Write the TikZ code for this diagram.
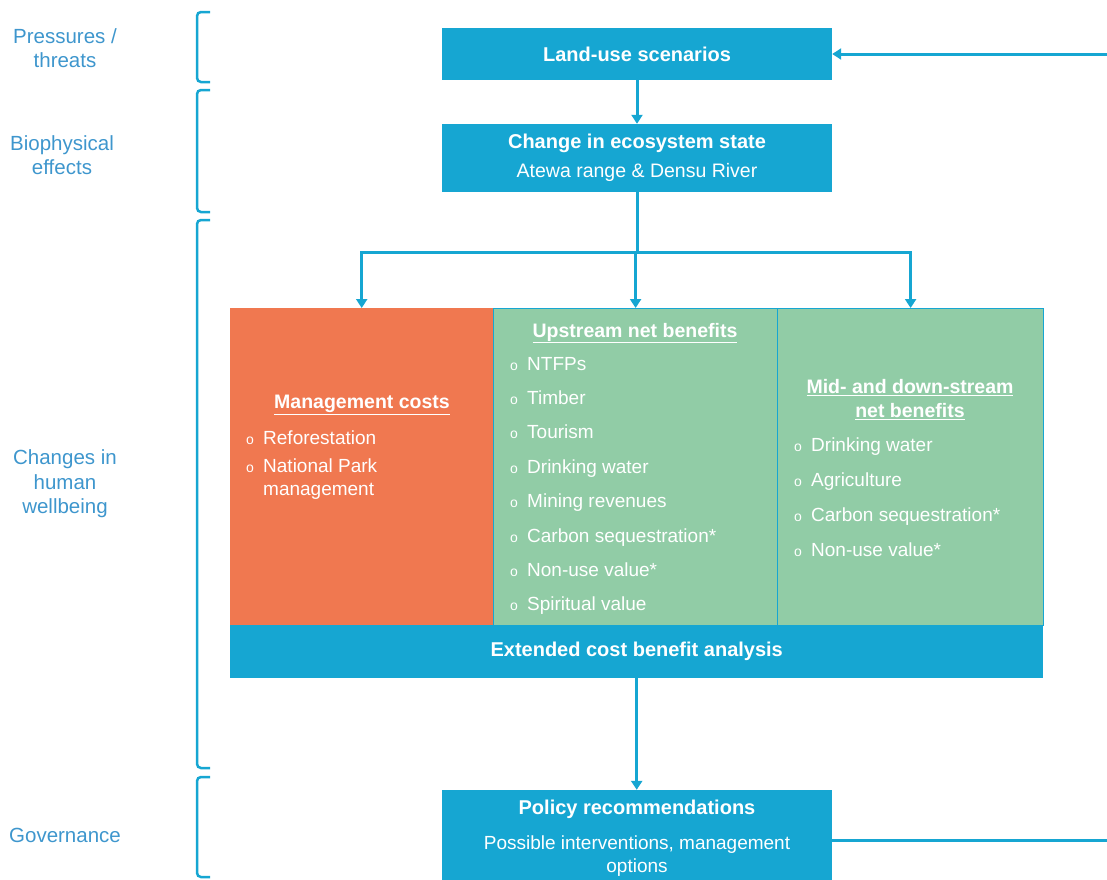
\documentclass[tikz,border=0pt]{standalone}
\usepackage{fontspec}
\setmainfont{Liberation Sans}
\usetikzlibrary{arrows.meta}

\definecolor{boxblue}{RGB}{22,166,210}
\definecolor{sideblue}{RGB}{62,150,205}
\definecolor{costorange}{RGB}{240,120,80}
\definecolor{benefitgreen}{RGB}{145,204,166}

\newcommand{\bul}{\makebox[17pt][l]{\fontsize{14}{14}\selectfont o}}

\tikzset{
	block/.style={fill=boxblue, text=white, minimum width=390pt, align=center, inner sep=0pt},
	panel/.style={anchor=north west, minimum height=317pt, inner sep=0pt},
	sidelabel/.style={text=sideblue, align=center, font=\fontsize{20.5}{24.5}\selectfont},
	title/.style={text=white, align=center, font=\bfseries\fontsize{19.5}{24}\selectfont},
	item/.style={anchor=west, text=white, inner sep=0pt, text height=13.5pt, text depth=4pt,
		font=\fontsize{19}{23}\selectfont},
	flow/.style={draw=boxblue, line width=3pt, -{Triangle[length=9pt,width=11pt]}},
	brace/.style={draw=boxblue, line width=2.5pt, rounded corners=4pt},
}

\begin{document}
\begin{tikzpicture}[x=1pt,y=-1pt]
	\useasboundingbox (0,0) rectangle (1107,879);
	
	\node[sidelabel] (pressures) at (65,48) {Pressures /\\threats};
	\node[sidelabel] (biophys) at (62,155) {Biophysical\\effects};
	\node[sidelabel] (wellbeing) at (65,484) {Changes in\\human\\wellbeing};
	\node[sidelabel] (governance) at (65,835) {Governance};
	
	\draw[brace] (210,12) -- (197,12) -- (197,82) -- (210,82);
	\draw[brace] (210,90) -- (197,90) -- (197,212) -- (210,212);
	\draw[brace] (210,220) -- (197,220) -- (197,768) -- (210,768);
	\draw[brace] (210,777) -- (197,777) -- (197,877) -- (210,877);
	
	\node[block, minimum height=52pt, font=\bfseries\fontsize{20}{24}\selectfont] (land) at (637,54) {Land-use scenarios};
	\node[block, minimum height=68pt] (chg) at (637,158)
	{{\bfseries\fontsize{20}{24}\selectfont Change in ecosystem state}\\[10pt]
		{\fontsize{19.5}{23}\selectfont Atewa range \& Densu River}};
	
	\node[panel, fill=costorange, minimum width=263pt] (mgmt) at (230,308) {};
	\node[panel, fill=benefitgreen, draw=boxblue, line width=1.2pt, minimum width=284pt] (up) at (493,308) {};
	\node[panel, fill=benefitgreen, draw=boxblue, line width=1.2pt, minimum width=266pt] (mid) at (777,308) {};
	\node[anchor=north west, fill=boxblue, minimum width=813pt, minimum height=53pt, inner sep=0pt,
	text=white, font=\bfseries\fontsize{20}{24}\selectfont] (cba) at (230,625) {Extended cost benefit analysis};
	
	\node[title] (mgmttitle) at (362,405) {\underline{Management costs}};
	\node[item] (mg1) at (246,440) {\bul Reforestation};
	\node[item] (mg2) at (246,468) {\bul National Park};
	\node[item] (mg3) at (263,491) {management};
	
	\node[title] (uptitle) at (635,333) {\underline{Upstream net benefits}};
	\foreach \t [count=\i] in {NTFPs,Timber,Tourism,Drinking water,Mining revenues,
		Carbon sequestration*,Non-use value*,Spiritual value}
	\node[item] (up\i) at (510,331+34.4*\i) {\bul\t};
	
	\node[title] (midtitle) at (910,400) {\underline{Mid- and down-stream}\\\underline{net benefits}};
	\foreach \t [count=\i] in {Drinking water,Agriculture,Carbon sequestration*,Non-use value*}
	\node[item] (mid\i) at (794,412+35*\i) {\bul\t};
	
	\node[block, minimum height=100pt] (pol) at (637,840) {};
	\node[text=white, align=center, inner sep=0pt, font=\fontsize{19}{23}\selectfont] (poltext) at (637,838)
	{\textbf{\fontsize{20}{24}\selectfont Policy recommendations}\\[12pt]
		Possible interventions, management\\options};
	
	\coordinate (split) at (637,252);
	\draw[flow] (land) -- (chg);
	\draw[boxblue, line width=3pt] (chg.south) -- (split);
	\draw[flow] (split) -| (mgmt.north);
	\draw[flow] (split) -| (up.north);
	\draw[flow] (split) -| (mid.north);
	\draw[flow] (cba.south) -- (cba.south |- pol.north);
	\draw[flow] (pol.east) -- ++(320,0) |- (land.east);
\end{tikzpicture}
\end{document}
